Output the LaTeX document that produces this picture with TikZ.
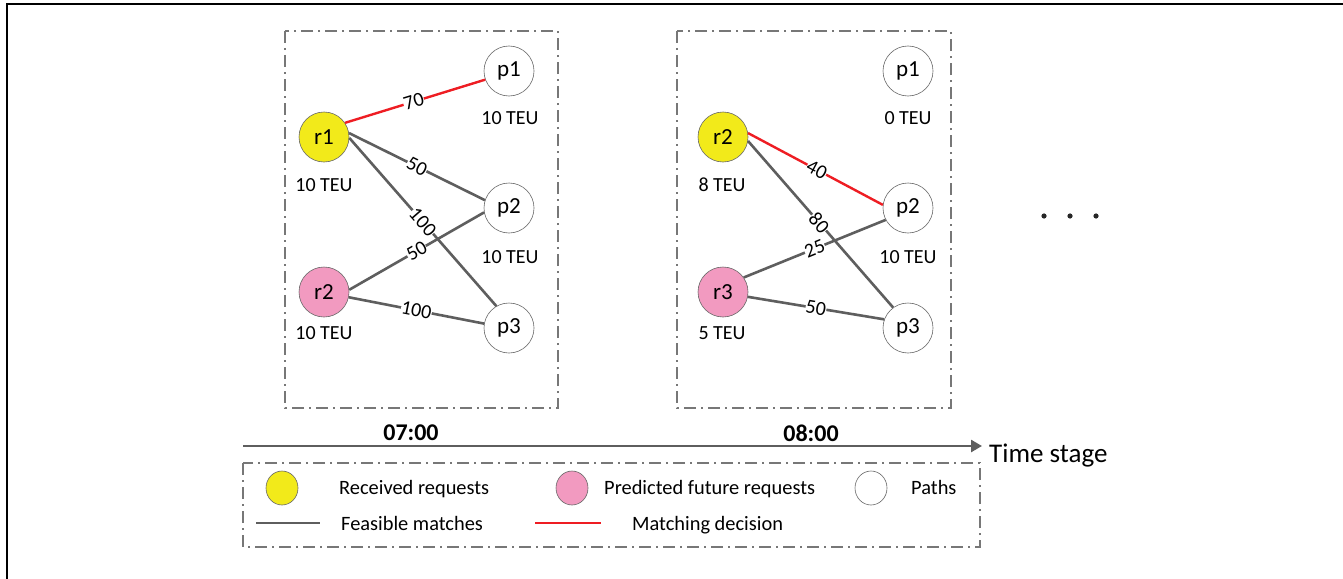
\documentclass[tikz,border=0pt]{standalone}
\usepackage{fontspec}
\setmainfont{Carlito}
\usetikzlibrary{arrows.meta}
\definecolor{ylw}{HTML}{F2EA1A}
\definecolor{pnk}{HTML}{F29AC0}
\definecolor{edgegray}{HTML}{5E5E5E}
\definecolor{redline}{HTML}{EE1D23}
\definecolor{boxgray}{HTML}{777777}
\tikzset{
  vtx/.style={circle,draw=black!60,line width=0.6pt,minimum size=50pt,inner sep=0pt,font=\fontsize{23}{23}\selectfont},
  recv/.style={vtx,fill=ylw},
  pred/.style={vtx,fill=pnk},
  pth/.style={vtx,fill=white},
  teu/.style={font=\fontsize{20}{20}\selectfont,inner sep=0pt},
  feas/.style={draw=edgegray,line width=2.6pt},
  dec/.style={draw=redline,line width=2.4pt},
  wlab/.style={sloped,pos=0.5,fill=white,inner sep=0.3pt,font=\fontsize{20}{20}\selectfont},
  ddbox/.style={draw=boxgray,line width=1.3pt,dash pattern=on 12pt off 5pt on 2pt off 5pt},
  legtxt/.style={font=\fontsize{20.4}{20.4}\selectfont,inner sep=0pt,anchor=base west},
}
\begin{document}
\begin{tikzpicture}[x=1pt,y=-1pt]
\useasboundingbox (0,0) rectangle (1343,578);
% frame
\draw[line width=2pt,black] (7,580) -- (7,4) -- (1345,4);
% boxes
\draw[ddbox] (285,31) rectangle (558,408);
\draw[ddbox] (677,31) rectangle (951,408);
% panel 1
\node[recv] (ar1) at (324,137) {r1};
\node[pred] (ar2) at (324,292) {r2};
\node[pth] (ap1) at (509,71) {p1};
\node[pth] (ap2) at (509,208) {p2};
\node[pth] (ap3) at (509,328) {p3};
\node[teu] (tar1) at (324,185) {10 TEU};
\node[teu] (tar2) at (324,333) {10 TEU};
\node[teu] (tap1) at (510,118) {10 TEU};
\node[teu] (tap2) at (510,257) {10 TEU};
\draw[feas] (ar1.9) -- node[wlab] {50} (ap2.162);
\draw[feas] (ar1.-2) -- node[wlab] {100} (ap3.120);
\draw[feas] (ar2.5) -- node[wlab] {50} (ap2.190);
\draw[feas] (ar2.-12) -- node[wlab] {100} (ap3.170);
\draw[dec] (ar1.34) -- node[wlab,pos=0.49] {70} (ap1.200);
% panel 2
\node[recv] (br2) at (723,137) {r2};
\node[pred] (br3) at (723,292) {r3};
\node[pth] (bp1) at (908,71) {p1};
\node[pth] (bp2) at (908,208) {p2};
\node[pth] (bp3) at (908,328) {p3};
\node[teu] (tbr2) at (722,185) {8 TEU};
\node[teu] (tbr3) at (722,333) {5 TEU};
\node[teu] (tbp1) at (908,118) {0 TEU};
\node[teu] (tbp2) at (908,257) {10 TEU};
\draw[feas] (br2.-9) -- node[wlab,pos=0.49] {80} (bp3.126);
\draw[feas] (br3.35) -- node[wlab] {25} (bp2.208);
\draw[feas] (br3.-11) -- node[wlab] {50} (bp3.160);
\draw[dec] (br2.9) -- node[wlab,pos=0.51] {40} (bp2.173);
% dots
\fill[black!85] (1044,216) circle (2.6) (1070,216) circle (2.6) (1096,216) circle (2.6);
% timeline
\coordinate (tl0) at (243,446);
\coordinate (tl1) at (982,446);
\draw[edgegray,line width=2.6pt,-{Triangle[length=11pt,width=12pt]}] (tl0) -- (tl1);
\node[font=\fontsize{27}{27}\selectfont,anchor=base west,inner sep=0pt] (ts) at (989,462) {Time stage};
\node[font=\bfseries\fontsize{24}{24}\selectfont,inner sep=0pt] (t7) at (411,433) {07:00};
\node[font=\bfseries\fontsize{24}{24}\selectfont,inner sep=0pt] (t8) at (811,433) {08:00};
% legend
\draw[ddbox] (243,463) rectangle (980,547);
\draw[black!60,line width=0.6pt,fill=ylw] (282,488) ellipse (16 and 17);
\draw[black!60,line width=0.6pt,fill=pnk] (572,488) ellipse (16 and 17);
\draw[black!60,line width=0.6pt,fill=white] (871,488) ellipse (16 and 17);
\node[legtxt] (l1) at (339,494.5) {Received requests};
\node[legtxt] (l2) at (604,494.5) {Predicted future requests};
\node[legtxt] (l3) at (911,494.5) {Paths};
\draw[feas] (256,523) -- (320,523);
\draw[dec] (535,523) -- (601,523);
\node[legtxt] (l4) at (341,530.5) {Feasible matches};
\node[legtxt] (l5) at (632,530.5) {Matching decision};
\end{tikzpicture}
\end{document}
